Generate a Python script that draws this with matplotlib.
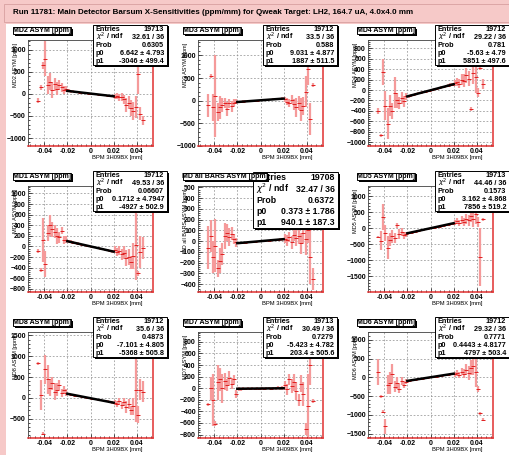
import matplotlib
matplotlib.use("Agg")
import matplotlib.pyplot as plt
from matplotlib.patches import Rectangle
from matplotlib.ticker import MultipleLocator, AutoMinorLocator

# figure size in pixels
W, H = 509, 455

TITLE = "Run 11781: Main Detector Barsum X-Sensitivities (ppm/mm) for Qweak Target: LH2, 164.7 uA, 4.0x4.0 mm"
XLABEL = "BPM 3H09BX [mm]"

# bin centres of the profiles (mm)
xbins = [-0.045, -0.043, -0.041, -0.039, -0.037, -0.035, -0.033, -0.031, -0.029, -0.027,
         -0.025, -0.023, -0.021, -0.019, -0.017, -0.015, -0.013, -0.011, -0.009, -0.007,
         -0.005, -0.003, -0.001, 0.001, 0.003, 0.005, 0.007, 0.009, 0.011, 0.013,
         0.015, 0.017, 0.019, 0.021, 0.023, 0.025, 0.027, 0.029, 0.031, 0.033,
         0.035, 0.037, 0.039, 0.041, 0.043, 0.045]

# ---- profile values (ppm) and errors ----
md2_y = [-150, 150, 650, 800, 200, 280, 80, 220, 120, 200, 150, 90, 110,
         70, 55, 60, 40, 45, 30, 35, 20, 18, 5, 2, -5, -12, -15, -25, -28, -35, -40, -50, -48,
         -60, -40, -80, -60, -120, -250, -200, -320, -380, -300, 450, -450, -600]
md2_e = [60, 60, 80, 400, 200, 200, 180, 150, 150, 120, 100, 90, 70,
         30, 25, 25, 20, 20, 18, 18, 18, 15, 15, 15, 15, 18, 18, 18, 20, 20, 22, 25, 30,
         60, 70, 80, 90, 100, 150, 150, 180, 200, 250, 450, 150, 100]

md3_y = [-100, 550, -150, 100, -250, -150, -100, -50, -180, -60, -120, -40, -20,
         -30, -22, -20, -12, -15, -5, -6, 3, 2, 8, 14, 20, 18, 28, 28, 36, 35, 44, 40, 50,
         30, -20, -60, 20, -80, -150, -50, -200, -120, 200, 700, -400, 350]
md3_e = [250, 40, 300, 900, 200, 250, 150, 120, 150, 100, 120, 80, 50,
         30, 25, 25, 20, 20, 18, 18, 18, 15, 15, 15, 15, 18, 18, 18, 20, 20, 22, 25, 30,
         60, 80, 90, 100, 120, 200, 150, 250, 200, 350, 350, 350, 40]

md4_y = [-400, -870, 350, -300, -650, -300, -400, -50, -200, -250, -150, -220, -120,
         -120, -100, -95, -80, -65, -60, -45, -35, -20, -10, 2, 15, 25, 45, 55, 60, 75, 85, 100, 105,
         130, 150, 120, 200, 180, 280, 220, -370, 320, 250, -50, 430, 120]
md4_e = [60, 30, 250, 280, 300, 200, 150, 300, 150, 120, 120, 100, 70,
         30, 25, 25, 20, 20, 18, 18, 18, 15, 15, 15, 15, 18, 18, 18, 20, 20, 22, 25, 30,
         60, 80, 90, 100, 120, 150, 150, 40, 200, 300, 80, 40, 100]

md1_y = [-90, -450, 120, -330, 250, 400, 320, 280, 200, 170, 300, 120, 130,
         95, 90, 70, 60, 55, 40, 30, 25, 15, 5, -5, -15, -20, -35, -45, -50, -65, -70, -85, -95,
         -60, -110, -80, -150, -120, -220, -200, -300, -180, 30, -510, -100, -30]
md1_e = [40, 40, 420, 240, 150, 200, 150, 120, 150, 100, 60, 80, 70,
         30, 25, 25, 20, 20, 18, 18, 18, 15, 15, 15, 15, 18, 18, 18, 20, 20, 22, 25, 30,
         70, 80, 90, 100, 120, 150, 150, 120, 240, 660, 50, 300, 200]

mdall_y = [-60, 50, -150, -40, -250, -180, -120, 50, 80, 40, 70, 20, -10,
           -18, -20, -13, -15, -9, -10, -5, -7, -1, -2, 3, 2, 8, 6, 11, 12, 14, 12, 19, 18,
           25, 10, 40, -10, 60, 30, 50, -20, 80, 20, 100, -150, -350]
mdall_e = [200, 150, 150, 250, 80, 120, 100, 120, 80, 80, 60, 50, 40,
           12, 10, 10, 8, 8, 7, 7, 7, 6, 6, 6, 6, 7, 7, 7, 8, 8, 9, 10, 12,
           40, 50, 50, 60, 60, 70, 80, 100, 100, 150, 120, 250, 100]

md5_y = [-270, -380, 350, -150, -600, -350, -250, -300, 100, -180, -120, -220, -180,
         -150, -135, -110, -100, -85, -65, -55, -35, -25, -5, 10, 25, 45, 55, 75, 85, 105, 115, 135, 150,
         180, 220, 160, 260, 200, 300, 250, 400, 300, 450, 200, -900, 280]
md5_e = [40, 300, 400, 250, 350, 200, 200, 150, 80, 150, 120, 100, 80,
         30, 25, 25, 20, 20, 18, 18, 18, 15, 15, 15, 15, 18, 18, 18, 20, 20, 22, 25, 30,
         80, 100, 100, 120, 120, 150, 180, 200, 250, 300, 150, 900, 40]

md8_y = [830, 60, -860, 690, 450, 250, 350, 150, 200, 300, 120, 200, 130,
         95, 80, 75, 55, 55, 40, 25, 20, 5, 0, -15, -20, -35, -40, -55, -60, -75, -80, -95, -105,
         -110, -150, -80, -180, -100, -220, -150, -300, -200, 190, -400, 200, 150]
md8_e = [40, 360, 40, 350, 350, 200, 150, 200, 150, 120, 100, 80, 80,
         30, 25, 25, 20, 20, 18, 18, 18, 15, 15, 15, 15, 18, 18, 18, 20, 20, 22, 25, 30,
         60, 70, 80, 90, 100, 150, 120, 100, 200, 770, 200, 250, 250]

md7_y = [-280, 0, -200, -610, 100, 150, 0, 120, 50, 180, 80, 150, -100,
         -10, -15, -5, -12, 0, -8, -2, -10, 0, -6, 5, -8, 0, 5, -10, 3, -5, 8, -3, 2,
         50, -20, 150, 30, 100, -50, -200, 80, -100, -700, -300, 400, -220]
md7_e = [30, 200, 450, 50, 300, 200, 250, 150, 100, 120, 100, 80, 70,
         30, 25, 25, 20, 20, 18, 18, 18, 15, 15, 15, 15, 18, 18, 18, 20, 20, 22, 25, 30,
         80, 100, 100, 120, 150, 150, 100, 150, 200, 100, 550, 350, 40]

md6_y = [140, -500, -915, -1300, -200, -150, 100, -250, -150, -300, -100, -200, -120,
         -90, -85, -70, -65, -50, -40, -35, -25, -10, -5, 5, 15, 20, 35, 40, 50, 65, 70, 80, 90,
         80, 120, 60, 150, 100, 200, 120, 250, 300, 150, -300, -950, -1130]
md6_e = [340, 40, 40, 200, 250, 300, 250, 150, 150, 120, 100, 80, 70,
         30, 25, 25, 20, 20, 18, 18, 18, 15, 15, 15, 15, 18, 18, 18, 20, 20, 22, 25, 30,
         70, 80, 90, 100, 120, 150, 180, 200, 250, 400, 80, 40, 40]

# panel names, fit results and stats box texts
names = ["MD2", "MD3", "MD4", "MD1", "MD all BARS", "MD5", "MD8", "MD7", "MD6"]
profiles = [(md2_y, md2_e), (md3_y, md3_e), (md4_y, md4_e),
            (md1_y, md1_e), (mdall_y, mdall_e), (md5_y, md5_e),
            (md8_y, md8_e), (md7_y, md7_e), (md6_y, md6_e)]
p0 = [6.642, 9.031, -5.63, 0.1712, 0.373, 3.162, -7.101, -5.423, 0.4443]
p1 = [-3046, 1887, 5851, -4927, 940.1, 7856, -5368, 203.4, 4797]
entries = ["19713", "19712", "19712", "19712", "19708", "19713", "19712", "19713", "19712"]
chi2 = ["32.61 / 36", "33.5 / 36", "29.22 / 36", "49.53 / 36", "32.47 / 36",
        "44.46 / 36", "35.6 / 36", "30.49 / 36", "29.32 / 36"]
prob = ["0.6305", "0.588", "0.781", "0.06607", "0.6372", "0.1573", "0.4873", "0.7279", "0.7771"]
p0_txt = ["6.642 ± 4.793", "9.031 ± 4.877", "-5.63 ± 4.79", "0.1712 ± 4.7947", "0.373 ± 1.786",
          "3.162 ± 4.868", "-7.101 ± 4.805", "-5.423 ± 4.782", "0.4443 ± 4.8177"]
p1_txt = ["-3046 ± 499.4", "1887 ± 511.5", "5851 ± 497.6", "-4927 ± 502.9", "940.1 ± 187.3",
          "7856 ± 519.2", "-5368 ± 505.8", "203.4 ± 505.6", "4797 ± 503.4"]
ylims = [(-1180, 1220), (-1000, 1340), (-1075, 960),
         (-860, 1140), (-472, 513), (-1985, 1320),
         (-960, 1580), (-860, 970), (-1615, 1205)]
ysteps = [500, 500, 200, 200, 100, 500, 500, 200, 500]

PINK = "#f6c9c8"
ERR_RED = "#f59a9a"
PT_RED = "#e02020"
FONT = "Liberation Sans"


def fx(px):
    return px / W


def fy(py):
    return 1 - py / H


fig = plt.figure(figsize=(W / 100, H / 100), dpi=100, facecolor=PINK)

# white canvas for the pads
fig.patches.append(Rectangle((fx(6), 0), (W - 6) / W, (H - 24) / H, transform=fig.transFigure,
                             facecolor="white", edgecolor="none", zorder=-5))

# title band
fig.patches.append(Rectangle((fx(4), fy(22)), (W - 4) / W, 18 / H, transform=fig.transFigure,
                             facecolor=PINK, edgecolor="#d8a0a0", lw=0.6, zorder=2))
fig.text(fx(13), fy(13), TITLE, fontsize=5.8, fontweight="bold", family=FONT,
         ha="left", va="center", zorder=3)


def box(x0, y0, w, h, z):
    # ROOT style box with a dark shadow
    fig.patches.append(Rectangle((fx(x0 + 1.5), fy(y0 + h + 1.5)), w / W, h / H, transform=fig.transFigure,
                                 facecolor="black", edgecolor="none", zorder=z))
    fig.patches.append(Rectangle((fx(x0), fy(y0 + h)), w / W, h / H, transform=fig.transFigure,
                                 facecolor="white", edgecolor="black", lw=0.7, zorder=z + 0.1))


for i, name in enumerate(names):
    row, col = divmod(i, 3)
    left = 28 + 170 * col
    top = 40 + 146 * row
    aw, ah = 125, 106
    ax = fig.add_axes([fx(left), fy(top + ah), aw / W, ah / H])

    yv, ye = profiles[i]
    ax.errorbar(xbins, yv, yerr=ye, fmt="none", ecolor=ERR_RED, elinewidth=1.6, capsize=0)
    ax.plot(xbins, yv, "_", ms=2.2, mew=0.7, color=PT_RED)
    # linear fit over the central range
    x0, x1 = -0.02, 0.02
    ax.plot([x0, x1], [p0[i] + p1[i] * x0, p0[i] + p1[i] * x1], color="black", lw=1.8)

    ax.set_xlim(-0.054, 0.054)
    ax.set_ylim(*ylims[i])
    ax.set_xticks([-0.04, -0.02, 0, 0.02, 0.04])
    ax.set_xticklabels(["-0.04", "-0.02", "0", "0.02", "0.04"])
    ax.yaxis.set_major_locator(MultipleLocator(ysteps[i]))
    ax.xaxis.set_minor_locator(AutoMinorLocator(5))
    ax.yaxis.set_minor_locator(AutoMinorLocator(5))
    ax.tick_params(which="both", direction="in", labelsize=5, pad=1.5, width=0.5)
    ax.tick_params(which="major", length=3)
    ax.tick_params(which="minor", length=1.5)
    for lab in ax.get_xticklabels() + ax.get_yticklabels():
        lab.set_fontweight("bold")
        lab.set_family(FONT)
    ax.grid(True, which="major", ls=(0, (2.5, 2.5)), color="#8c8c8c", lw=0.5)
    for s in ["left", "top"]:
        ax.spines[s].set_color("#404040")
        ax.spines[s].set_linewidth(0.6)
    for s in ["right", "bottom"]:
        ax.spines[s].set_color("#e03030")
        ax.spines[s].set_linewidth(1.1)

    # axis titles
    fig.text(fx(left - 13), fy(top + 3), f"{name} ASYM [ppm]", rotation=90, fontsize=4.0,
             family=FONT, ha="center", va="top")
    fig.text(fx(left + aw - 10), fy(top + ah + 11), XLABEL, fontsize=4.2, family=FONT,
             ha="right", va="center")

    # histogram title box
    tx = [13, 183, 357][col]
    ty = 27 + 146 * row
    tw = 84 if name == "MD all BARS" else 58
    box(tx, ty, tw, 7, 6)
    fig.text(fx(tx + tw / 2), fy(ty + 3.6), f"{name} ASYM [ppm]", fontsize=5, fontweight="bold",
             family=FONT, ha="center", va="center", zorder=7)

    # stats box
    if name == "MD all BARS":
        sx, sy, sw, sh, fs = 253, 172, 85, 56, 6.3
    else:
        sx, sy, sw, sh, fs = [93, 263, 435][col], 25 + 146 * row, 74, 40, 5.2
    box(sx, sy, sw, sh, 4)
    rows = [("Entries", entries[i]), (r"$\chi^2$ / ndf", chi2[i]), ("Prob", prob[i]),
            ("p0", p0_txt[i]), ("p1", p1_txt[i])]
    dy = sh / 5
    for k, (lab, val) in enumerate(rows):
        yy = sy + dy * (k + 0.5) + 0.3
        fig.text(fx(sx + 3), fy(yy), lab, fontsize=fs, family=FONT, fontweight="bold",
                 ha="left", va="center", zorder=5)
        fig.text(fx(sx + sw - 3), fy(yy), val, fontsize=fs, family=FONT, fontweight="bold",
                 ha="right", va="center", zorder=5)

fig.savefig("out.png", dpi=100, facecolor=PINK)
